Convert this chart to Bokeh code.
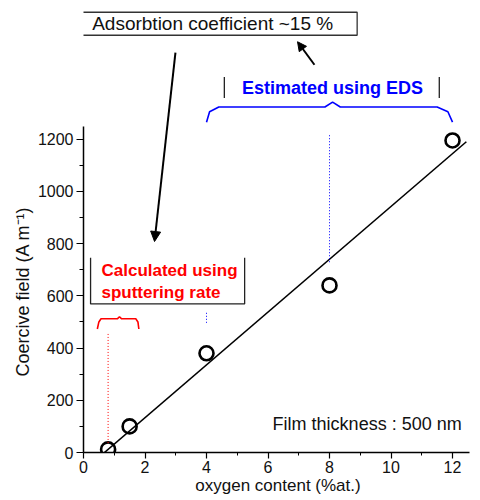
from bokeh.plotting import figure
from bokeh.models import Range1d, FixedTicker, Label, Arrow, NormalHead
from bokeh.embed import file_html
from bokeh.resources import INLINE

# ---- data ----
oxygen = [0.8, 1.5, 4.0, 8.0, 12.0]
coercive = [12, 100, 380, 640, 1195]

fit_x = [0.68, 12.45]
fit_y = [0, 1190]

x_ticks = [0, 2, 4, 6, 8, 10, 12]
x_minor = [1, 3, 5, 7, 9, 11]
y_ticks = [0, 200, 400, 600, 800, 1000, 1200]
y_minor = [100, 300, 500, 700, 900, 1100]

# annotation shapes (data coordinates)
eds_brace_x = [4.0, 4.1, 4.4, 7.85, 8.1, 8.35, 11.5, 11.85, 12.0]
eds_brace_y = [1265, 1305, 1323, 1323, 1342, 1323, 1323, 1305, 1265]
sput_brace_x = [0.45, 0.5, 0.57, 1.1, 1.17, 1.24, 1.7, 1.77, 1.8]
sput_brace_y = [473, 500, 512, 512, 520, 512, 512, 500, 473]
sput_box_x = [0.23, 0.23, 5.24, 5.24]
sput_box_y = [746, 569, 569, 746]

FONT = "Liberation Sans"
NB = "\u00a0"

p = figure(width=472, height=497, output_backend="svg", toolbar_location=None,
           x_range=Range1d(0, 12.65), y_range=Range1d(0, 1731),
           min_border_left=83, min_border_right=0, min_border_top=0,
           min_border_bottom=0)
p.outline_line_color = None
p.grid.visible = False

# axes
xa = p.xaxis[0]
ya = p.yaxis[0]
xa.ticker = FixedTicker(ticks=x_ticks, minor_ticks=x_minor)
ya.ticker = FixedTicker(ticks=y_ticks, minor_ticks=y_minor)
xa.bounds = (0, 12.55)
ya.bounds = (0, 1250)
for ax in (xa, ya):
    ax.axis_line_color = "black"
    ax.axis_line_width = 1.5
    ax.major_tick_line_color = "black"
    ax.minor_tick_line_color = "black"
    ax.major_tick_line_width = 1.2
    ax.major_tick_in = 0
    ax.minor_tick_in = 0
    ax.major_label_text_font = FONT
    ax.major_label_text_font_size = "16px"
    ax.major_label_text_color = "#111111"
    ax.axis_label_text_font = FONT
    ax.axis_label_text_font_style = "normal"
    ax.axis_label_text_color = "#111111"
ya.major_tick_out = 7
ya.minor_tick_out = 4
ya.major_label_standoff = 3
ya.axis_label_standoff = 2
ya.axis_label_text_font_size = "18px"
ya.axis_label = "Coercive field (A m\u207b\u00b9)" + NB * 26
xa.major_tick_out = 6
xa.minor_tick_out = 3
xa.major_label_standoff = 2
xa.axis_label_standoff = 0
xa.axis_label_text_font_size = "17px"
xa.axis_label = "oxygen content (%at.)"

# fit line and data points
p.line(fit_x, fit_y, line_color="black", line_width=1.6)
p.scatter(oxygen, coercive, marker="circle", size=14, fill_color=None,
          line_color="black", line_width=2.6)

# dotted guides
p.segment(x0=[0.8], y0=[454], x1=[0.8], y1=[31], line_color="red",
          line_dash="1 2", line_width=1)
p.segment(x0=[8.0, 4.0], y0=[1215, 535], x1=[8.0, 4.0], y1=[723, 492],
          line_color="blue", line_dash="1 2", line_width=1)

# braces
p.line(eds_brace_x, eds_brace_y, line_color="blue", line_width=1.6)
p.line(sput_brace_x, sput_brace_y, line_color="red", line_width=1.6)

# open box of "Calculated using sputtering rate"
p.line(sput_box_x, sput_box_y, line_color="#222222", line_width=1.3)

# side bars around "Estimated using EDS"
p.segment(x0=[4.58, 11.57], y0=[1438, 1438], x1=[4.58, 11.57], y1=[1358, 1358],
          line_color="#222222", line_width=1.3)

# texts
p.add_layout(Label(x=8.1, y=1396, text="Estimated using EDS", text_align="center",
                   text_baseline="middle", text_font=FONT, text_font_style="bold",
                   text_font_size="18px", text_color="blue"))
p.add_layout(Label(x=0.585, y=696, text="Calculated using", text_align="left",
                   text_baseline="middle", text_font=FONT, text_font_style="bold",
                   text_font_size="17px", text_color="red"))
p.add_layout(Label(x=0.585, y=612, text="sputtering rate", text_align="left",
                   text_baseline="middle", text_font=FONT, text_font_style="bold",
                   text_font_size="17px", text_color="red"))
p.add_layout(Label(x=6.15, y=108, text="Film thickness : 500 nm", text_align="left",
                   text_baseline="middle", text_font=FONT,
                   text_font_size="18px", text_color="#111111"))
p.add_layout(Label(x=4.2, y=1642, text="Adsorbtion coefficient ~15 %",
                   text_align="center", text_baseline="middle", text_font=FONT,
                   text_font_size="19px", text_color="#111111",
                   border_line_color="#333333", border_line_width=1.3,
                   background_fill_color="white", padding=(24, 1)))

# arrows
p.add_layout(Arrow(x_start=2.99, y_start=1531, x_end=2.31, y_end=808,
                   line_width=2, line_color="black",
                   end=NormalHead(size=10, fill_color="black", line_color="black")))
p.add_layout(Arrow(x_start=7.51, y_start=1485, x_end=6.96, y_end=1573,
                   line_width=2, line_color="black",
                   end=NormalHead(size=9, fill_color="black", line_color="black")))

open("out.html", "w").write(file_html(p, INLINE))
